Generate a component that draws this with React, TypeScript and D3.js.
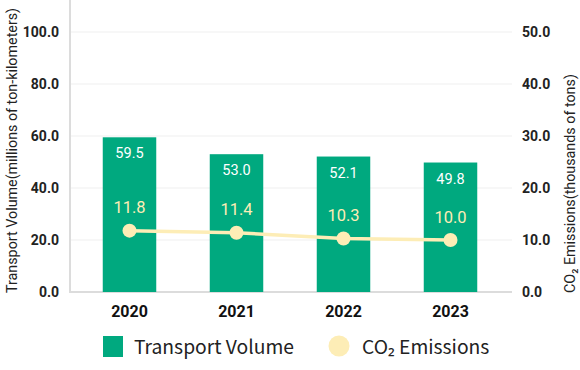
import React, { useEffect, useRef } from "react";
import * as d3 from "d3";

const years = ["2020", "2021", "2022", "2023"];
const volume = [59.5, 53.0, 52.1, 49.8];
const co2 = [11.8, 11.4, 10.3, 10.0];
const leftTicks = [0, 20, 40, 60, 80, 100];
const rightTicks = [0, 10, 20, 30, 40, 50];

const GREEN = "#00a97f";
const YELLOW = "#fdedb6";

const W = 580;
const H = 370;

export default function App() {
  const ref = useRef<SVGSVGElement>(null);

  useEffect(() => {
    const svg = d3.select(ref.current);
    svg.selectAll("*").remove();

    const x = d3.scaleBand().domain(years).range([76, 504]).paddingInner(0.5).paddingOuter(0.25);
    const yL = d3.scaleLinear().domain([0, 100]).range([292, 32]);
    const yR = d3.scaleLinear().domain([0, 50]).range([292, 32]);

    // grid
    svg
      .append("g")
      .selectAll("line")
      .data(leftTicks.slice(1))
      .join("line")
      .attr("x1", 70)
      .attr("x2", 512)
      .attr("y1", (d) => yL(d))
      .attr("y2", (d) => yL(d))
      .attr("stroke", "#efefef")
      .attr("stroke-width", 1);

    // axis lines
    svg.append("line").attr("x1", 70).attr("x2", 70).attr("y1", 0).attr("y2", 292)
      .attr("stroke", "#dcdcdc").attr("stroke-width", 2);
    svg.append("line").attr("x1", 69).attr("x2", 512).attr("y1", 292).attr("y2", 292)
      .attr("stroke", "#dcdcdc").attr("stroke-width", 2);

    const tickFont = "Roboto, sans-serif";

    svg
      .append("g")
      .selectAll("text")
      .data(leftTicks)
      .join("text")
      .attr("x", 59)
      .attr("y", (d) => yL(d))
      .attr("dy", "0.35em")
      .attr("text-anchor", "end")
      .attr("font-family", tickFont)
      .attr("font-weight", 700)
      .attr("font-size", 14)
      .attr("fill", "#222")
      .text((d) => d3.format(".1f")(d));

    svg
      .append("g")
      .selectAll("text")
      .data(rightTicks)
      .join("text")
      .attr("x", 522)
      .attr("y", (d) => yR(d))
      .attr("dy", "0.35em")
      .attr("text-anchor", "start")
      .attr("font-family", tickFont)
      .attr("font-weight", 700)
      .attr("font-size", 14)
      .attr("fill", "#222")
      .text((d) => d3.format(".1f")(d));

    // axis titles
    svg.append("text")
      .attr("transform", `translate(17,293) rotate(-90)`)
      .attr("font-family", tickFont)
      .attr("font-size", 14.3)
      .attr("fill", "#222")
      .text("Transport Volume(millions of ton-kilometers)");

    svg.append("text")
      .attr("transform", `translate(575,293) rotate(-90)`)
      .attr("font-family", tickFont)
      .attr("font-size", 14.3)
      .attr("fill", "#222")
      .text("CO₂ Emissions(thousands of tons)");

    // bars
    svg
      .append("g")
      .selectAll("rect")
      .data(volume)
      .join("rect")
      .attr("x", (_, i) => x(years[i])!)
      .attr("y", (d) => yL(d))
      .attr("width", x.bandwidth())
      .attr("height", (d) => yL(0) - yL(d))
      .attr("fill", GREEN);

    svg
      .append("g")
      .selectAll("text")
      .data(volume)
      .join("text")
      .attr("x", (_, i) => x(years[i])! + x.bandwidth() / 2)
      .attr("y", (d) => yL(d) + 16)
      .attr("dy", "0.35em")
      .attr("text-anchor", "middle")
      .attr("font-family", tickFont)
      .attr("font-size", 14.5)
      .attr("fill", "#fff")
      .text((d) => d.toFixed(1));

    // line
    const cx = (i: number) => x(years[i])! + x.bandwidth() / 2;
    const line = d3.line<number>().x((_, i) => cx(i)).y((d) => yR(d));
    svg.append("path")
      .datum(co2)
      .attr("d", line)
      .attr("fill", "none")
      .attr("stroke", YELLOW)
      .attr("stroke-width", 3.5);

    svg
      .append("g")
      .selectAll("circle")
      .data(co2)
      .join("circle")
      .attr("cx", (_, i) => cx(i))
      .attr("cy", (d) => yR(d))
      .attr("r", 7)
      .attr("fill", YELLOW);

    svg
      .append("g")
      .selectAll("text")
      .data(co2)
      .join("text")
      .attr("x", (_, i) => cx(i))
      .attr("y", (d) => yR(d) - 23)
      .attr("dy", "0.35em")
      .attr("text-anchor", "middle")
      .attr("font-family", tickFont)
      .attr("font-size", 16.5)
      .attr("fill", YELLOW)
      .text((d) => d.toFixed(1));

    // x labels
    svg
      .append("g")
      .selectAll("text")
      .data(years)
      .join("text")
      .attr("x", (d) => x(d)! + x.bandwidth() / 2)
      .attr("y", 311)
      .attr("dy", "0.35em")
      .attr("text-anchor", "middle")
      .attr("font-family", tickFont)
      .attr("font-weight", 700)
      .attr("font-size", 16)
      .attr("fill", "#111")
      .text((d) => d);

    // legend
    const legFont = "'Noto Sans CJK JP', 'Noto Sans', sans-serif";
    svg.append("rect").attr("x", 103).attr("y", 336).attr("width", 20).attr("height", 21).attr("fill", GREEN);
    svg.append("text").attr("x", 134).attr("y", 347).attr("dy", "0.35em")
      .attr("font-family", legFont).attr("font-size", 19.3).attr("fill", "#222")
      .text("Transport Volume");
    svg.append("circle").attr("cx", 339).attr("cy", 346).attr("r", 10.5).attr("fill", YELLOW);
    svg.append("text").attr("x", 362).attr("y", 347).attr("dy", "0.35em")
      .attr("font-family", legFont).attr("font-size", 19.3).attr("fill", "#222")
      .text("CO₂ Emissions");
  }, []);

  return (
    <svg
      ref={ref}
      width={W}
      height={H}
      style={{ position: "absolute", left: 0, top: 0, background: "#fff" }}
    />
  );
}
